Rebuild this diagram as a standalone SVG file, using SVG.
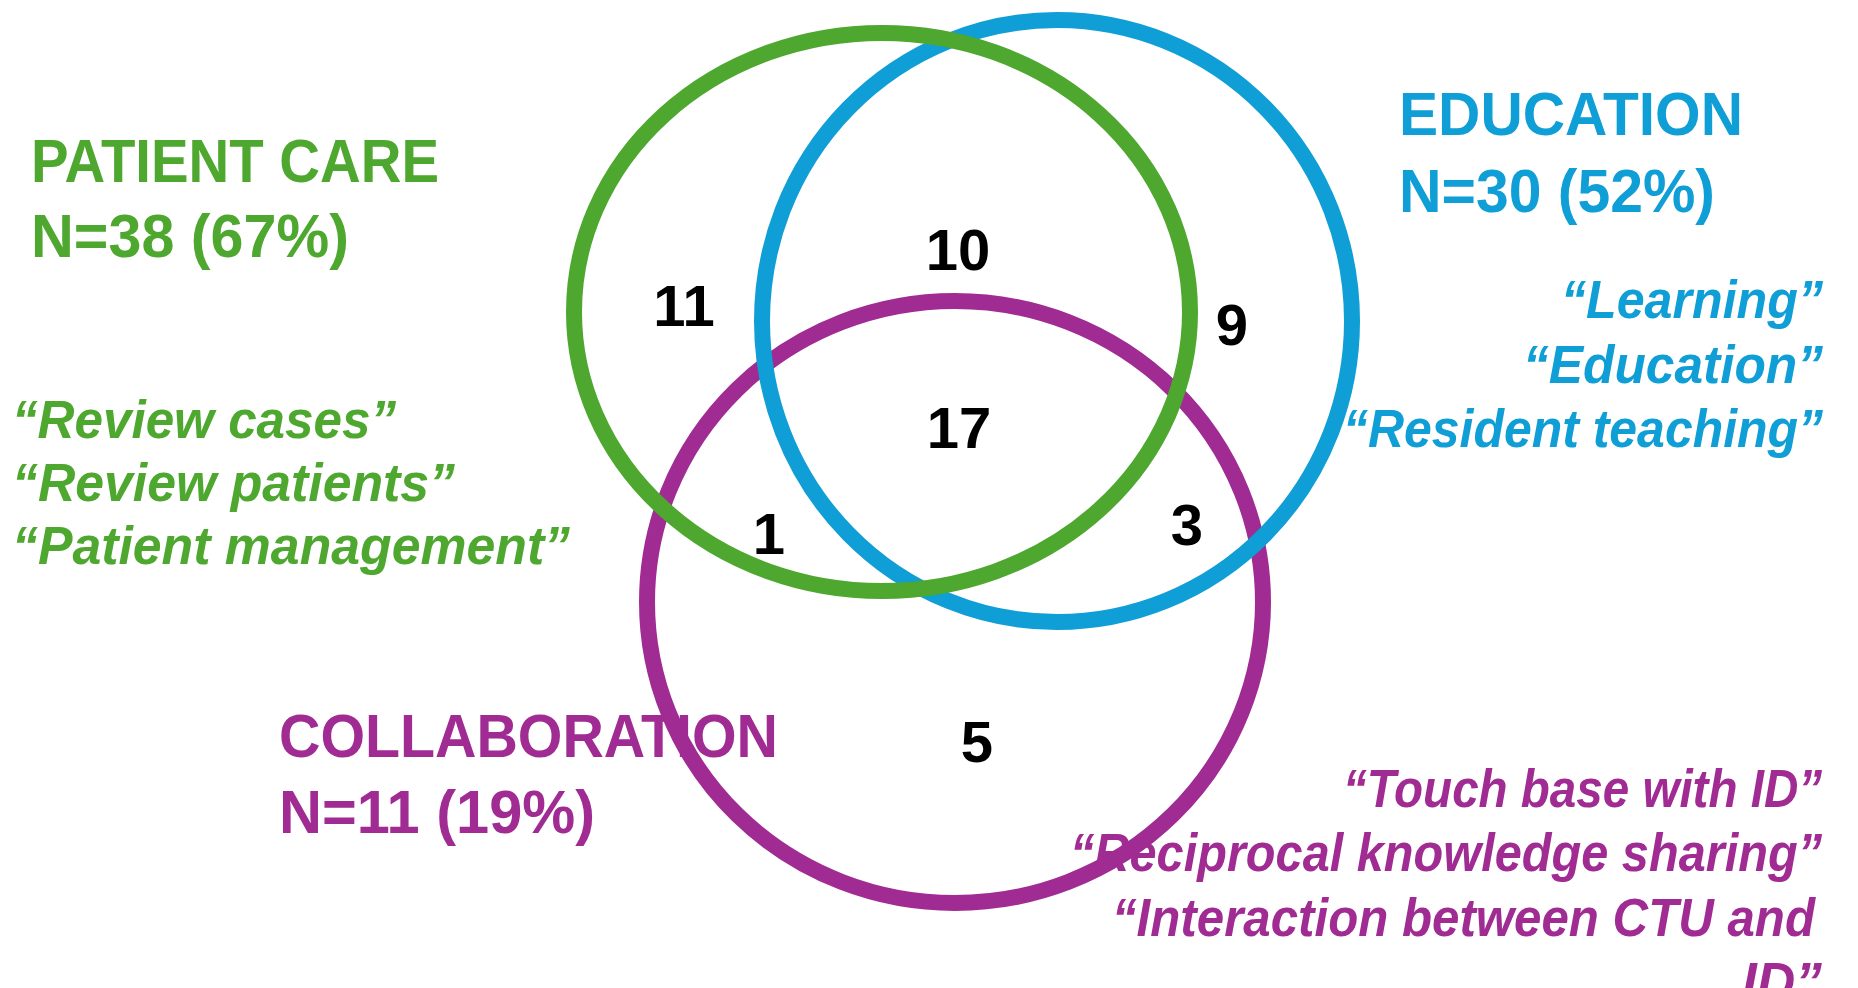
<svg xmlns="http://www.w3.org/2000/svg" width="1858" height="988" viewBox="0 0 1858 988">
<style>
.ring{fill:none;stroke-width:16}
.title{font-family:"Liberation Sans",Arial,sans-serif;font-weight:bold;font-size:61px}
.quote{font-family:"Liberation Sans",Arial,sans-serif;font-weight:bold;font-style:italic;font-size:53px}
.num{font-family:"Liberation Sans",Arial,sans-serif;font-weight:bold;font-size:58px;fill:#000;text-anchor:middle}
.g{fill:#4EA72E}.gs{stroke:#4EA72E}
.b{fill:#0F9ED5}.bs{stroke:#0F9ED5}
.p{fill:#A02B93}.ps{stroke:#A02B93}
</style>
<rect width="1858" height="988" fill="#fff"/>
<g id="collaboration">
<text class="title p" x="279" y="757" textLength="499" lengthAdjust="spacingAndGlyphs">COLLABORATION</text>
<text class="title p" x="279" y="833" textLength="316" lengthAdjust="spacingAndGlyphs">N=11 (19%)</text>
<text class="quote p" x="1822" y="807" text-anchor="end" textLength="479" lengthAdjust="spacingAndGlyphs">“Touch base with ID”</text>
<text class="quote p" x="1822" y="871" text-anchor="end" textLength="752" lengthAdjust="spacingAndGlyphs">“Reciprocal knowledge sharing”</text>
<text class="quote p" x="1112" y="936" textLength="703" lengthAdjust="spacingAndGlyphs">“Interaction between CTU and</text>
<text class="quote p" x="1822" y="1000" text-anchor="end" textLength="80" lengthAdjust="spacingAndGlyphs">ID”</text>
<ellipse class="ring ps" cx="955" cy="602" rx="308" ry="301"/>
</g>
<g id="education">
<text class="title b" x="1399" y="135" textLength="344" lengthAdjust="spacingAndGlyphs">EDUCATION</text>
<text class="title b" x="1399" y="212" textLength="316" lengthAdjust="spacingAndGlyphs">N=30 (52%)</text>
<text class="quote b" x="1823" y="318" text-anchor="end" textLength="262" lengthAdjust="spacingAndGlyphs">“Learning”</text>
<text class="quote b" x="1823" y="383" text-anchor="end" textLength="300" lengthAdjust="spacingAndGlyphs">“Education”</text>
<text class="quote b" x="1823" y="447" text-anchor="end" textLength="480" lengthAdjust="spacingAndGlyphs">“Resident teaching”</text>
<ellipse class="ring bs" cx="1057" cy="321" rx="295" ry="301"/>
</g>
<g id="patient-care">
<text class="title g" x="31" y="182" textLength="408" lengthAdjust="spacingAndGlyphs">PATIENT CARE</text>
<text class="title g" x="31" y="257" textLength="318" lengthAdjust="spacingAndGlyphs">N=38 (67%)</text>
<text class="quote g" x="12" y="438" textLength="384" lengthAdjust="spacingAndGlyphs">“Review cases”</text>
<text class="quote g" x="12" y="501" textLength="443" lengthAdjust="spacingAndGlyphs">“Review patients”</text>
<text class="quote g" x="12" y="564" textLength="558" lengthAdjust="spacingAndGlyphs">“Patient management”</text>
<ellipse class="ring gs" cx="882" cy="312" rx="308" ry="279"/>
</g>
<g id="counts">
<text class="num" x="684" y="326">11</text>
<text class="num" x="958" y="270">10</text>
<text class="num" x="1232" y="345">9</text>
<text class="num" x="959" y="448">17</text>
<text class="num" x="769" y="554">1</text>
<text class="num" x="1187" y="545">3</text>
<text class="num" x="977" y="762">5</text>
</g>
</svg>
